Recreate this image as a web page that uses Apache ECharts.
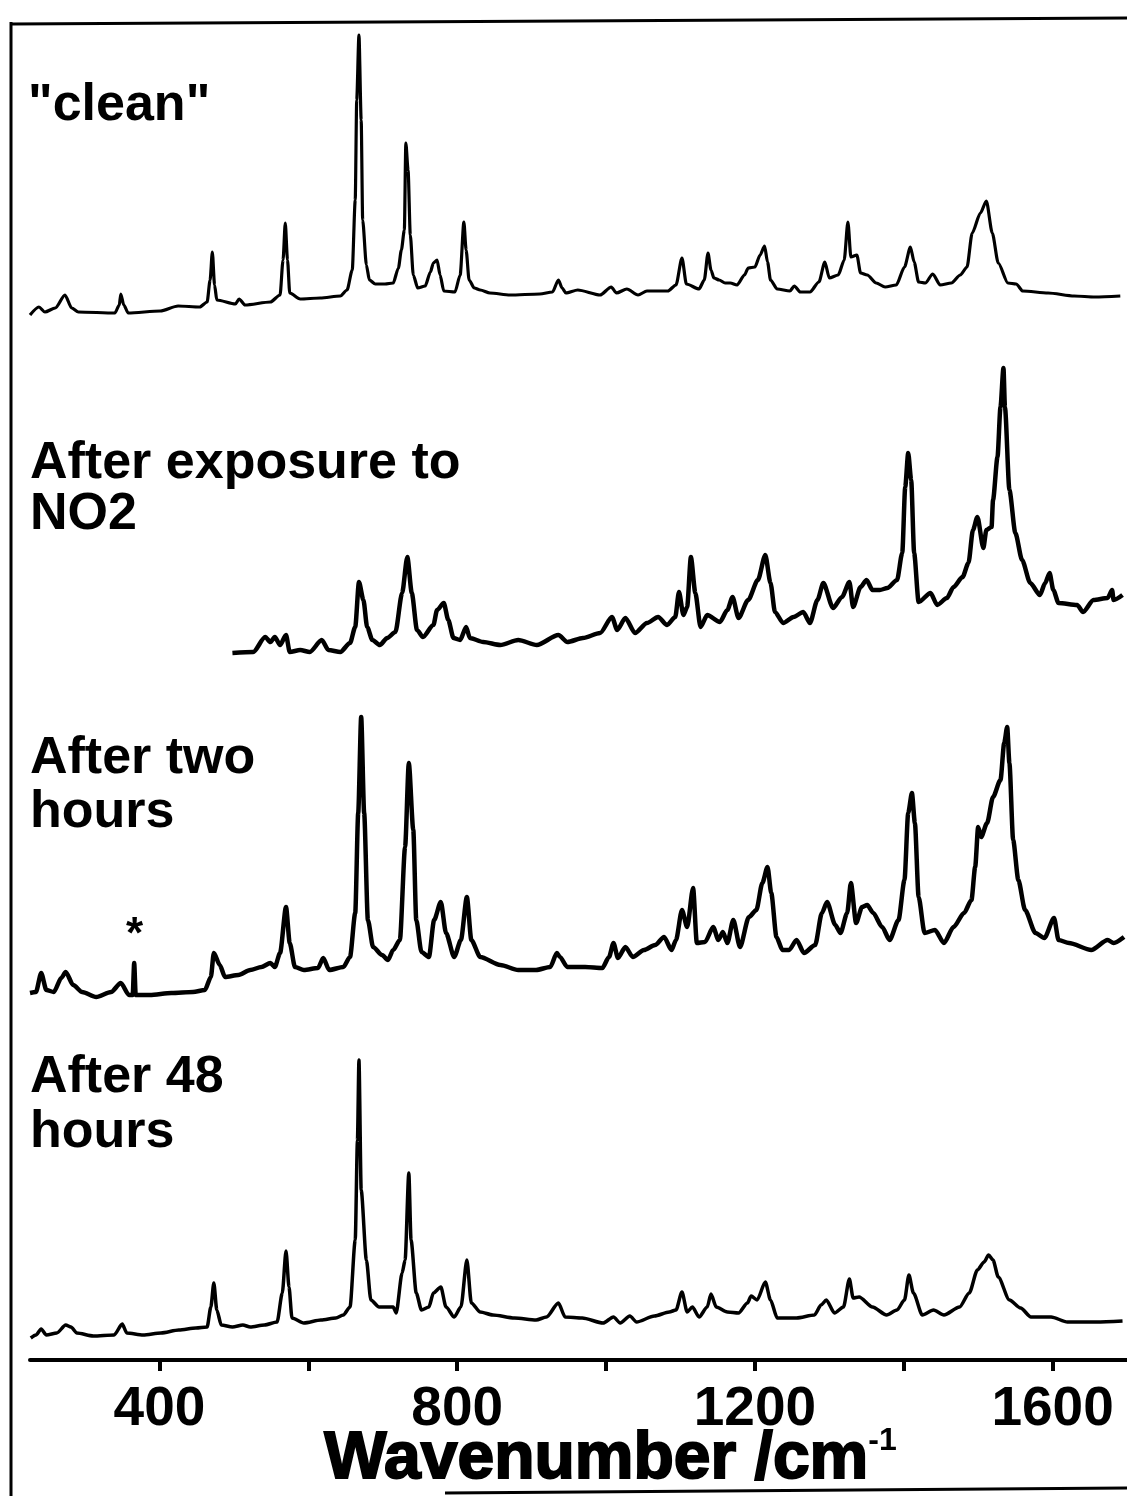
<!DOCTYPE html>
<html><head><meta charset="utf-8">
<script src="https://cdn.jsdelivr.net/npm/echarts@6/dist/echarts.min.js"></script>
<style>html,body{margin:0;padding:0;background:#fff}#c{width:1127px;height:1496px}</style>
</head><body><div id="c"></div>
<script>
// [wavenumber (cm-1), intensity (a.u.)]
const clean = [[226,5],[238,13],[246,8],[260,12],[273,25],[282,12],[291,8],[340,7],[346,15],[348,26],[352,15],[358,7],[401,9],[425,14],[454,13],[464,18],[468,40],[471,68],[474,35],[477,20],[502,16],[507,21],[515,15],[549,18],[562,25],[566,60],[569,97],[572,60],[575,27],[589,21],[616,22],[643,24],[652,30],[659,50],[663,120],[665,220],[668,285],[671,200],[673,100],[678,55],[682,40],[690,36],[703,36],[714,37],[721,52],[725,70],[729,90],[731,177],[734,150],[737,85],[741,45],[747,32],[757,34],[764,48],[768,57],[773,60],[777,45],[782,29],[797,28],[804,45],[809,98],[812,70],[816,40],[823,32],[831,30],[844,27],[871,25],[911,26],[928,28],[936,40],[941,32],[946,27],[962,30],[992,25],[1007,33],[1014,27],[1028,31],[1043,25],[1055,29],[1083,29],[1094,35],[1102,62],[1108,36],[1125,31],[1132,40],[1137,67],[1141,50],[1145,42],[1152,40],[1160,37],[1167,37],[1176,35],[1186,45],[1191,52],[1200,53],[1207,65],[1213,74],[1217,58],[1221,40],[1230,31],[1247,29],[1253,34],[1261,28],[1274,28],[1286,38],[1294,58],[1300,42],[1312,45],[1320,60],[1325,98],[1329,63],[1337,65],[1342,47],[1351,45],[1363,37],[1375,33],[1390,35],[1401,53],[1409,73],[1414,58],[1420,38],[1429,37],[1439,46],[1449,35],[1464,37],[1476,45],[1485,53],[1492,87],[1503,107],[1511,119],[1519,87],[1527,57],[1540,37],[1551,36],[1560,29],[1594,27],[1629,24],[1657,23],[1691,24]];

const afterNO2 = [[498,7],[526,8],[542,23],[549,18],[555,23],[562,15],[570,25],[575,8],[589,10],[602,8],[618,20],[627,10],[643,8],[656,17],[663,33],[668,78],[674,60],[679,33],[686,20],[696,15],[706,22],[717,28],[726,67],[733,103],[739,67],[746,30],[754,23],[768,35],[773,50],[782,57],[788,40],[795,22],[804,20],[812,33],[817,22],[835,18],[858,15],[882,20],[907,15],[936,25],[948,18],[969,22],[992,27],[1008,43],[1015,30],[1026,42],[1039,27],[1055,37],[1070,43],[1082,35],[1093,43],[1098,68],[1104,45],[1109,53],[1114,103],[1120,67],[1127,33],[1136,45],[1153,38],[1163,50],[1170,63],[1178,42],[1191,60],[1204,80],[1214,105],[1221,77],[1227,48],[1238,37],[1252,43],[1265,48],[1274,37],[1284,60],[1292,77],[1305,52],[1317,63],[1327,78],[1332,53],[1342,73],[1350,80],[1358,70],[1368,70],[1378,72],[1391,80],[1398,107],[1402,173],[1406,207],[1410,180],[1414,107],[1420,58],[1436,67],[1445,55],[1458,62],[1467,73],[1479,83],[1487,97],[1493,130],[1499,143],[1507,112],[1511,130],[1518,133],[1520,160],[1526,203],[1530,253],[1534,292],[1536,253],[1542,170],[1550,127],[1559,100],[1570,77],[1583,65],[1590,77],[1596,87],[1601,70],[1608,57],[1633,55],[1641,48],[1655,60],[1674,62],[1680,70],[1682,60],[1694,65]];

const afterTwoHours = [[226,7],[234,8],[241,27],[248,10],[258,8],[268,22],[274,28],[284,15],[296,8],[315,3],[335,8],[348,17],[359,5],[364,5],[366,37],[368,5],[387,5],[416,7],[445,8],[461,10],[469,23],[473,47],[481,35],[488,23],[506,25],[522,30],[537,33],[549,37],[555,33],[562,47],[570,93],[575,57],[582,33],[594,30],[613,32],[620,42],[628,30],[647,33],[656,43],[663,87],[667,187],[671,283],[675,187],[680,80],[687,53],[699,45],[707,40],[714,50],[723,60],[730,153],[735,237],[741,170],[745,80],[752,48],[762,43],[769,80],[778,98],[785,67],[796,43],[805,60],[813,103],[819,60],[831,43],[858,35],[882,30],[906,30],[925,33],[934,47],[938,43],[948,33],[972,33],[995,32],[1004,43],[1010,57],[1016,42],[1026,53],[1036,43],[1051,50],[1066,55],[1078,63],[1088,50],[1094,60],[1102,90],[1109,73],[1117,112],[1122,57],[1133,58],[1144,73],[1151,60],[1157,68],[1163,57],[1171,80],[1180,53],[1192,83],[1202,90],[1210,117],[1217,133],[1222,107],[1229,63],[1237,50],[1246,50],[1256,60],[1266,47],[1281,55],[1290,87],[1297,98],[1308,75],[1315,67],[1324,87],[1329,117],[1336,77],[1344,93],[1351,95],[1359,87],[1371,73],[1381,60],[1393,80],[1401,120],[1406,187],[1411,207],[1415,177],[1420,103],[1428,67],[1442,70],[1454,57],[1467,73],[1481,87],[1491,100],[1496,133],[1500,173],[1504,163],[1512,177],[1520,203],[1530,220],[1535,257],[1539,273],[1542,237],[1547,160],[1554,120],[1563,90],[1577,67],[1589,62],[1602,82],[1608,60],[1622,57],[1652,50],[1674,60],[1682,57],[1696,63]];

const after48Hours = [[227,7],[234,10],[241,16],[248,10],[262,12],[274,20],[281,18],[289,12],[311,9],[339,10],[350,21],[356,12],[378,10],[402,12],[426,15],[449,17],[464,18],[469,38],[473,62],[477,35],[483,20],[498,18],[512,20],[522,18],[541,20],[558,23],[565,52],[570,94],[574,58],[578,27],[594,22],[617,25],[637,27],[647,30],[656,38],[663,105],[666,205],[668,285],[671,155],[678,85],[684,45],[695,38],[714,38],[718,32],[726,72],[730,85],[735,172],[738,105],[745,52],[752,35],[762,38],[768,52],[778,58],[785,38],[796,28],[805,38],[813,85],[819,42],[831,33],[848,30],[877,27],[906,25],[920,28],[936,42],[945,28],[968,27],[996,22],[1010,28],[1019,22],[1032,29],[1041,23],[1065,29],[1085,33],[1094,35],[1102,53],[1109,33],[1116,38],[1125,28],[1136,38],[1141,51],[1148,38],[1163,33],[1178,32],[1190,42],[1195,49],[1203,45],[1214,63],[1221,45],[1230,27],[1256,27],[1280,30],[1289,40],[1296,45],[1307,32],[1319,38],[1327,66],[1332,47],[1340,48],[1358,38],[1377,30],[1391,35],[1401,45],[1407,70],[1413,52],[1425,30],[1440,35],[1454,30],[1475,38],[1488,52],[1499,75],[1508,83],[1514,90],[1520,85],[1527,68],[1542,45],[1557,37],[1571,28],[1598,28],[1620,23],[1659,23],[1694,24]];

// vertical stacking offsets of the traces (a.u.)
const offsets = [1040, 700, 360, 15];
const tickValues = [400, 600, 800, 1000, 1200, 1400, 1600];
const labelValues = [400, 800, 1200, 1600];

const FONT = '"Liberation Sans", Arial, Helvetica, sans-serif';
const chart = echarts.init(document.getElementById('c'), null, {renderer: 'canvas'});

const spectra = [clean, afterNO2, afterTwoHours, after48Hours];
const widths = [3.2, 4.5, 4.5, 3.5];
const names = ['"clean"', 'After exposure to NO2', 'After two hours', 'After 48 hours'];

function lbl(text, x, y, size) {
  return {type: 'text', left: x, top: y, silent: true,
    style: {text: text, fill: '#000', font: 'bold ' + (size || 52) + 'px ' + FONT}};
}

chart.setOption({
  animation: false,
  backgroundColor: '#fff',
  grid: {left: 30, right: 0, top: 0, bottom: 136, containLabel: false, outerBoundsMode: 'none'},
  xAxis: {
    type: 'value', min: 226, max: 1700,
    axisLine: {show: true, lineStyle: {color: '#000', width: 4}},
    axisTick: {show: true, customValues: tickValues, length: 11, lineStyle: {color: '#000', width: 4}},
    axisLabel: {customValues: labelValues, formatter: v => String(v), fontSize: 55, fontWeight: 'bold', fontFamily: FONT, color: '#000', margin: 22},
    splitLine: {show: false},
    name: '{m|Wavenumber /cm}{s|-1}',
    nameLocation: 'middle', nameGap: 65, nameMoveOverlap: false,
    nameTextStyle: {
      padding: [0, 0, 0, 64],
      rich: {
        m: {fontSize: 66, fontWeight: 'bold', fontFamily: FONT, color: '#000', textBorderColor: '#000', textBorderWidth: 2, lineHeight: 70},
        s: {fontSize: 32, fontWeight: 'bold', fontFamily: FONT, color: '#000', verticalAlign: 'top', lineHeight: 70}
      }
    }
  },
  yAxis: {type: 'value', min: 0, max: 1360, show: false, splitLine: {show: false}},
  series: spectra.map((d, i) => ({
    name: names[i], type: 'line', showSymbol: false, smooth: 0.25, smoothMonotone: 'x',
    lineStyle: {color: '#000', width: widths[i]},
    data: d.map(p => [p[0], p[1] + offsets[i]])
  })),
  graphic: [
    {type: 'line', silent: true, shape: {x1: 11, y1: 24, x2: 1127, y2: 18}, style: {stroke: '#000', lineWidth: 3}},
    {type: 'line', silent: true, shape: {x1: 11, y1: 22, x2: 11, y2: 1496}, style: {stroke: '#000', lineWidth: 3}},
    {type: 'line', silent: true, shape: {x1: 445, y1: 1493, x2: 1127, y2: 1488}, style: {stroke: '#000', lineWidth: 3}},
    lbl('"clean"', 28, 80),
    lbl('After exposure to', 30, 438),
    lbl('NO2', 30, 489),
    lbl('After two', 30, 733),
    lbl('hours', 30, 787),
    lbl('*', 126, 914, 44),
    lbl('After 48', 30, 1052),
    lbl('hours', 30, 1107)
  ]
});
</script></body></html>
